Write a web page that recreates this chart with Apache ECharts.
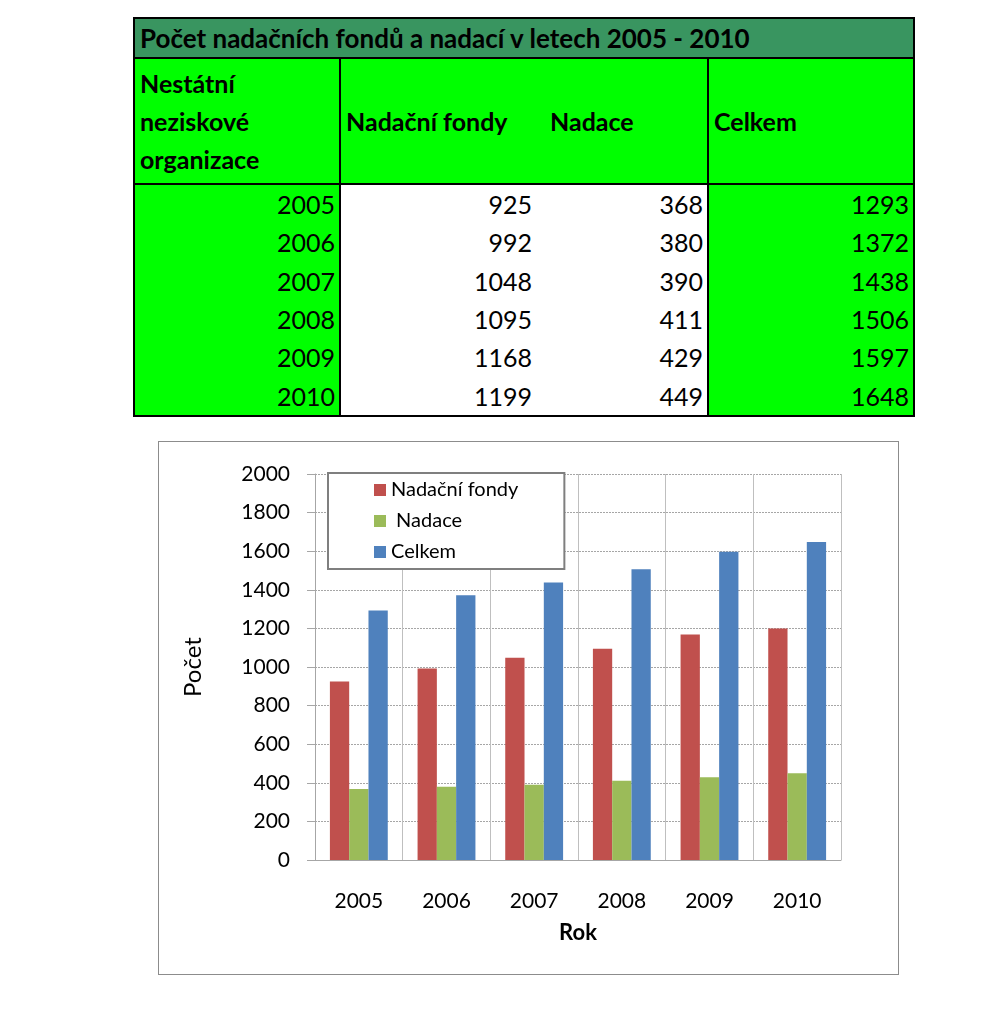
<!DOCTYPE html>
<html>
<head>
<meta charset="utf-8">
<script src="https://cdn.jsdelivr.net/npm/echarts@6/dist/echarts.min.js"></script>
<style>
    body { margin: 0; background: #fff; width: 1007px; height: 1018px; position: relative; font-family: Lato, "Open Sans", sans-serif; }
    #tableBox { position: absolute; left: 133px; top: 17px; width: 780px; }
    table { border-collapse: collapse; width: 780px; table-layout: fixed; border: 2px solid #000; font-size: 25px; color: #000; }
    td { padding: 0 5px; white-space: nowrap; }
    .title td { background: #399560; height: 38px; font-weight: bold; font-size: 26px; border-bottom: 2px solid #000; }
    .head td { background: #00ff00; height: 124px; font-weight: bold; border-bottom: 2px solid #000; vertical-align: middle; }
    .row td { height: 38.3px; text-align: right; padding: 0 4px; }
    .g { background: #00ff00; }
    .w { background: #fff; }
    .bl { border-left: 2px solid #000; }
    #lineChart { position: absolute; left: 158px; top: 441px; width: 741px; height: 534px; border: 1px solid #8c8c8c; box-sizing: border-box; }
</style>
</head>
<body>
<div id="tableBox"></div>
<div id="lineChart"></div>
<script>
    var years = ['2005', '2006', '2007', '2008', '2009', '2010'];
    var nadacniFondy = [925, 992, 1048, 1095, 1168, 1199];
    var nadace = [368, 380, 390, 411, 429, 449];
    var celkem = [1293, 1372, 1438, 1506, 1597, 1648];
    var tableTitle = 'Počet nadačních fondů a nadací v letech 2005 - 2010';

    // build the table from the arrays
    var html = '<table><colgroup><col style="width:206px"><col style="width:196px"><col style="width:172px"><col style="width:206px"></colgroup>';
    html += '<tr class="title"><td colspan="4">' + tableTitle + '</td></tr>';
    html += '<tr class="head"><td class="g" style="line-height:38px">Nestátní<br>neziskové<br>organizace</td>' +
        '<td class="bl">Nadační fondy</td><td style="padding-left:14px">Nadace</td><td class="bl">Celkem</td></tr>';
    for (var i = 0; i < years.length; i++) {
        html += '<tr class="row"><td class="g">' + years[i] + '</td><td class="w bl">' + nadacniFondy[i] +
            '</td><td class="w">' + nadace[i] + '</td><td class="g bl">' + celkem[i] + '</td></tr>';
    }
    html += '</table>';
    document.getElementById('tableBox').innerHTML = html;

    var myChart = echarts.init(document.getElementById('lineChart'));
    var font = 'Lato';
    myChart.setOption({
        animation: false,
        color: ['#C0504D', '#9BBB59', '#4F81BD'],
        grid: { left: 156, right: 57, top: 32, bottom: 114 },
        legend: {
            orient: 'vertical',
            left: 169,
            top: 31,
            backgroundColor: '#fff',
            borderColor: '#7f7f7f',
            borderWidth: 2,
            padding: [7, 46, 7, 46],
            itemWidth: 12,
            itemHeight: 12,
            itemGap: 11,
            icon: 'rect',
            formatter: function (name) { return name === 'Nadace' ? ' Nadace' : name; },
            textStyle: { fontFamily: font, fontSize: 20, color: '#000' },
            data: ['Nadační fondy', 'Nadace', 'Celkem']
        },
        xAxis: {
            type: 'category',
            data: years,
            name: 'Rok',
            nameLocation: 'middle',
            nameGap: 62,
            nameTextStyle: { fontFamily: font, fontSize: 22, fontWeight: 'bold', color: '#000' },
            axisLine: { lineStyle: { color: '#a6a6a6' } },
            axisTick: { length: 8, lineStyle: { color: '#a6a6a6' } },
            axisLabel: { margin: 31, fontFamily: font, fontSize: 21, color: '#000' },
            splitLine: { show: true, lineStyle: { color: '#bfbfbf' } }
        },
        yAxis: {
            type: 'value',
            min: 0,
            max: 2000,
            interval: 200,
            name: 'Počet',
            nameLocation: 'middle',
            nameGap: 110,
            nameTextStyle: { fontFamily: font, fontSize: 24, color: '#000' },
            axisLine: { show: true, lineStyle: { color: '#a6a6a6' } },
            axisTick: { show: true, length: 8, lineStyle: { color: '#a6a6a6' } },
            axisLabel: {
                margin: 25, fontFamily: font, fontSize: 21, color: '#000',
                formatter: function (v) { return String(v); }
            },
            splitLine: { lineStyle: { color: '#a6a6a6', type: [2, 1] } }
        },
        series: [
            { name: 'Nadační fondy', type: 'bar', data: nadacniFondy, barGap: '0%', barCategoryGap: '34%' },
            { name: 'Nadace', type: 'bar', data: nadace, barGap: '0%', barCategoryGap: '34%' },
            { name: 'Celkem', type: 'bar', data: celkem, barGap: '0%', barCategoryGap: '34%' }
        ]
    });
</script>
</body>
</html>
